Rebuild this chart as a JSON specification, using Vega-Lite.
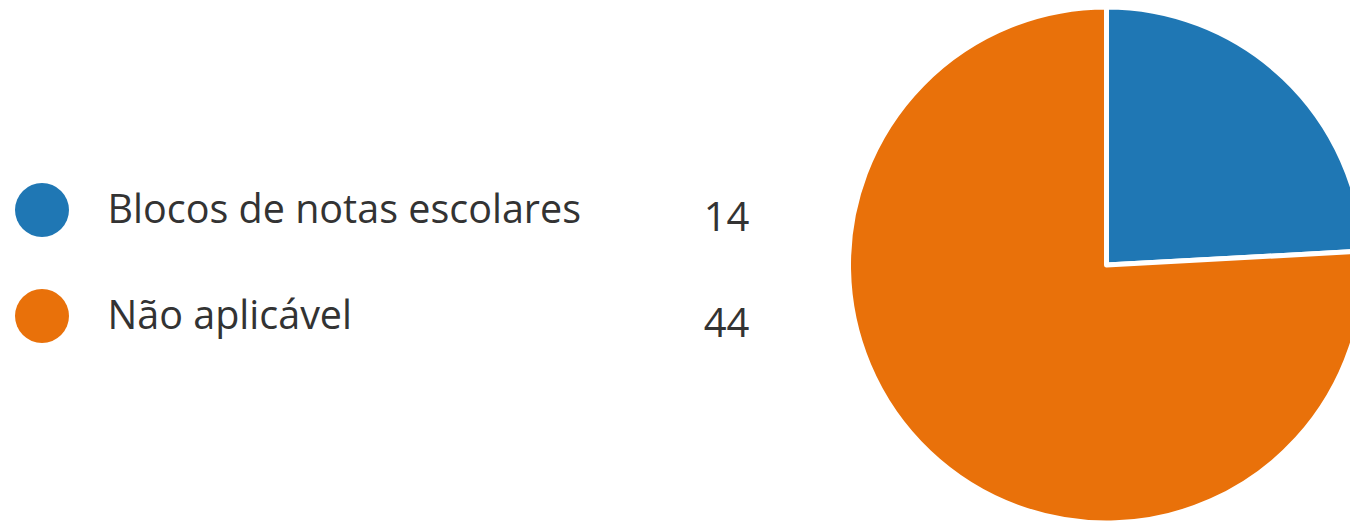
{
  "$schema": "https://vega.github.io/schema/vega-lite/v6.json",
  "padding": 0,
  "background": "white",
  "config": {"view": {"stroke": null}, "font": "Open Sans"},
  "data": {"values": [
    {"answer": "Blocos de notas escolares", "count": 14},
    {"answer": "Não aplicável", "count": 44}
  ]},
  "bounds": "full",
  "spacing": 68.5,
  "hconcat": [
    {
      "bounds": "flush",
      "spacing": 592.5,
      "hconcat": [
        {
          "width": 84,
          "height": 526,
          "mark": {"type": "point", "filled": true, "size": 2916, "opacity": 1},
          "encoding": {
            "y": {
              "field": "answer", "type": "nominal",
              "sort": ["Blocos de notas escolares", "Não aplicável"],
              "scale": {"padding": 0, "range": [210, 316]},
              "axis": {"orient": "right", "domain": false, "ticks": false, "grid": false, "title": null,
                       "labelPadding": 23, "labelAlign": "left", "labelBaseline": "middle", "labelOverlap": false,
                       "labelFontSize": 39.5, "labelColor": "#333333", "labelFont": "Open Sans", "labelLimit": 1000}
            },
            "color": {
              "field": "answer", "type": "nominal",
              "scale": {"domain": ["Blocos de notas escolares", "Não aplicável"], "range": ["#1f77b4", "#e9710a"]},
              "legend": null
            }
          }
        },
        {
          "width": 100,
          "height": 526,
          "mark": {"type": "text", "fontSize": 40, "font": "Open Sans", "color": "#333333", "align": "center", "baseline": "middle", "dy": 8.5},
          "encoding": {
            "y": {
              "field": "answer", "type": "nominal",
              "sort": ["Blocos de notas escolares", "Não aplicável"],
              "scale": {"padding": 0, "range": [210, 316]},
              "axis": null
            },
            "text": {"field": "count", "type": "quantitative"}
          }
        }
      ]
    },
    {
      "width": 512,
      "height": 530,
      "mark": {"type": "arc", "outerRadius": 258, "stroke": "white", "strokeWidth": 5, "strokeJoin": "round"},
      "encoding": {
        "theta": {"field": "count", "type": "quantitative", "stack": true},
        "color": {
          "field": "answer", "type": "nominal",
          "scale": {"domain": ["Blocos de notas escolares", "Não aplicável"], "range": ["#1f77b4", "#e9710a"]},
          "legend": null
        }
      }
    }
  ]
}
